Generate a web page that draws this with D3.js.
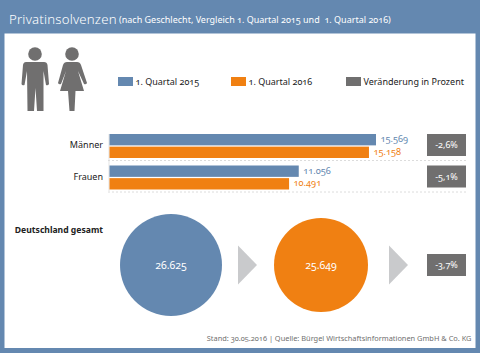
<!DOCTYPE html>
<html>
<head>
<meta charset="utf-8">
<script src="https://cdn.jsdelivr.net/npm/d3@7"></script>
<style>
  html, body { margin: 0; padding: 0; background: #fff; }
  svg { display: block; }
  text { font-family: "Noto Sans", "Open Sans", sans-serif; font-feature-settings: "onum" 1; }
</style>
</head>
<body>
<div id="chart"></div>
<script>
(function(){
  'use strict';

  // data
  var groups = ['Männer', 'Frauen'];
  var seriesNames = ['1. Quartal 2015', '1. Quartal 2016'];
  var legendNames = ['1. Quartal 2015', '1. Quartal 2016', 'Veränderung in Prozent'];
  var values2015 = [15569, 11056];
  var values2016 = [15158, 10491];
  var changes = ['-2,6%', '-5,1%'];
  var totals = [26625, 25649];
  var totalChange = '-3,7%';

  var blue = '#6488b0', orange = '#f08012', gray = '#706f6f', arrowGray = '#c9cacc';
  var w = 480, h = 353;
  var fmt = d3.formatLocale({decimal: ',', thousands: '.', grouping: [3], currency: ['', '€']}).format(',d');

  var svg = d3.select('#chart').append('svg')
    .attr('width', w)
    .attr('height', h);

  svg.append('rect').attr('width', w).attr('height', h).attr('fill', blue);
  svg.append('rect')
    .attr('x', 4.5).attr('y', 33.5)
    .attr('width', 471).attr('height', 314.5)
    .attr('fill', '#fff');

  // title
  svg.append('text').attr('x', 9).attr('y', 23.5).attr('fill', '#fff')
    .attr('font-size', 13.2).attr('font-weight', 300).attr('letter-spacing', 0.2)
    .text('Privatinsolvenzen');
  svg.append('text').attr('x', 119).attr('y', 23).attr('fill', '#fff').attr('font-size', 9)
    .style('white-space', 'pre')
    .text('(nach Geschlecht, Vergleich 1. Quartal 2015 und  1. Quartal 2016)');

  // people icons
  var icons = svg.append('g').attr('fill', gray);
  icons.append('circle').attr('cx', 35).attr('cy', 54).attr('r', 6.8);
  icons.append('path').attr('d', 'M26,62 H44 Q47,62 47.5,65 L49,84 Q48,86 46,85 L43.5,71 L43.5,111 H37 L35.5,88 L34,111 H27.5 L27,71 L24.5,85 Q22,86 21.5,84 L23,65 Q23.5,62 26,62 Z');
  icons.append('circle').attr('cx', 72).attr('cy', 54).attr('r', 6.8);
  icons.append('path').attr('d', 'M67,62 H77 Q80,62 81,65 L87,83 Q86,85 84,84 L78,71 L84,91 H75.5 L74.5,111 H69.5 L68,91 H60 L66,71 L61,84 Q59,85 58,83 L63,65 Q64,62 67,62 Z');

  // legend
  var legendX = d3.scaleOrdinal().domain(legendNames).range([118, 231, 346]);
  var legendC = d3.scaleOrdinal().domain(legendNames).range([blue, orange, gray]);
  var legend = svg.selectAll('.legend').data(legendNames).enter().append('g').attr('class', 'legend');
  legend.append('rect')
    .attr('x', function(d) { return legendX(d); })
    .attr('y', 77).attr('width', 15).attr('height', 9)
    .attr('fill', function(d) { return legendC(d); });
  legend.append('text')
    .attr('x', function(d) { return legendX(d) + 17.5; })
    .attr('y', 84.5)
    .attr('font-size', 9).attr('fill', '#222')
    .text(function(d) { return d; });

  // bars
  var x = d3.scaleLinear().domain([0, 15569]).range([109.5, 376]);
  var y = d3.scaleBand().domain(groups).range([134, 197]);
  var y2 = d3.scaleBand().domain(seriesNames).range([0, 24]).paddingInner(0.1);
  var seriesValues = [values2015, values2016];
  var seriesColors = [blue, orange];

  svg.append('line')
    .attr('x1', 109).attr('x2', 109).attr('y1', 134).attr('y2', 191)
    .attr('stroke', '#e3e3e3');

  groups.forEach(function(g, i) {
    var rowY = y(g);
    svg.append('line')
      .attr('x1', 108).attr('x2', 466)
      .attr('y1', rowY + 26.5).attr('y2', rowY + 26.5)
      .attr('stroke', '#dcdcdc').attr('stroke-dasharray', '2,2');

    svg.append('text')
      .attr('x', 103).attr('y', rowY + 14)
      .attr('text-anchor', 'end')
      .attr('font-size', 9).attr('fill', '#222')
      .text(g);

    seriesNames.forEach(function(s, j) {
      var v = seriesValues[j][i];
      svg.append('rect')
        .attr('x', x(0)).attr('y', rowY + y2(s))
        .attr('width', x(v) - x(0)).attr('height', y2.bandwidth())
        .attr('fill', seriesColors[j]);
      svg.append('text')
        .attr('x', x(v) + 4.5).attr('y', rowY + y2(s) + 8)
        .attr('font-size', 9.2).attr('fill', seriesColors[j])
        .text(fmt(v));
    });

    svg.append('rect')
      .attr('x', 427).attr('y', rowY)
      .attr('width', 39).attr('height', 22)
      .attr('fill', gray);
    svg.append('text')
      .attr('x', 446.5).attr('y', rowY + 14)
      .attr('text-anchor', 'middle')
      .attr('font-size', 9).attr('fill', '#fff')
      .text(changes[i]);
  });

  // Deutschland gesamt
  svg.append('text')
    .attr('x', 103).attr('y', 232.5)
    .attr('text-anchor', 'end')
    .attr('font-size', 8.6).attr('font-weight', 700).attr('fill', '#222')
    .text('Deutschland gesamt');

  var cx = d3.scalePoint().domain(totals).range([171, 321]);
  var r = d3.scaleLinear().domain([25649, 26625]).range([47, 51]);
  var cy = 265;

  svg.selectAll('.total').data(totals).enter().append('circle')
    .attr('class', 'total')
    .attr('cx', function(d) { return cx(d); })
    .attr('cy', cy)
    .attr('r', function(d) { return r(d); })
    .attr('fill', function(d, i) { return seriesColors[i]; });

  svg.selectAll('.total-label').data(totals).enter().append('text')
    .attr('class', 'total-label')
    .attr('x', function(d) { return cx(d); })
    .attr('y', cy + 3.5)
    .attr('text-anchor', 'middle')
    .attr('font-size', 10.5).attr('fill', '#fff')
    .text(function(d) { return fmt(d); });

  // arrows
  var arrowX = [238, 389];
  svg.selectAll('.arrow').data(arrowX).enter().append('path')
    .attr('class', 'arrow')
    .attr('d', function(d) { return 'M' + d + ',' + (cy - 19.5) + ' L' + (d + 19) + ',' + cy + ' L' + d + ',' + (cy + 19.5) + ' Z'; })
    .attr('fill', arrowGray);

  svg.append('rect')
    .attr('x', 427).attr('y', 254)
    .attr('width', 39).attr('height', 22)
    .attr('fill', gray);
  svg.append('text')
    .attr('x', 446.5).attr('y', 268)
    .attr('text-anchor', 'middle')
    .attr('font-size', 9).attr('fill', '#fff')
    .text(totalChange);

  // source
  svg.append('text')
    .attr('x', 471.5).attr('y', 341)
    .attr('text-anchor', 'end')
    .attr('font-size', 7.4).attr('fill', '#706f6f')
    .text('Stand: 30.05.2016 | Quelle: Bürgel Wirtschaftsinformationen GmbH & Co. KG');

}());
</script>
</body>
</html>
